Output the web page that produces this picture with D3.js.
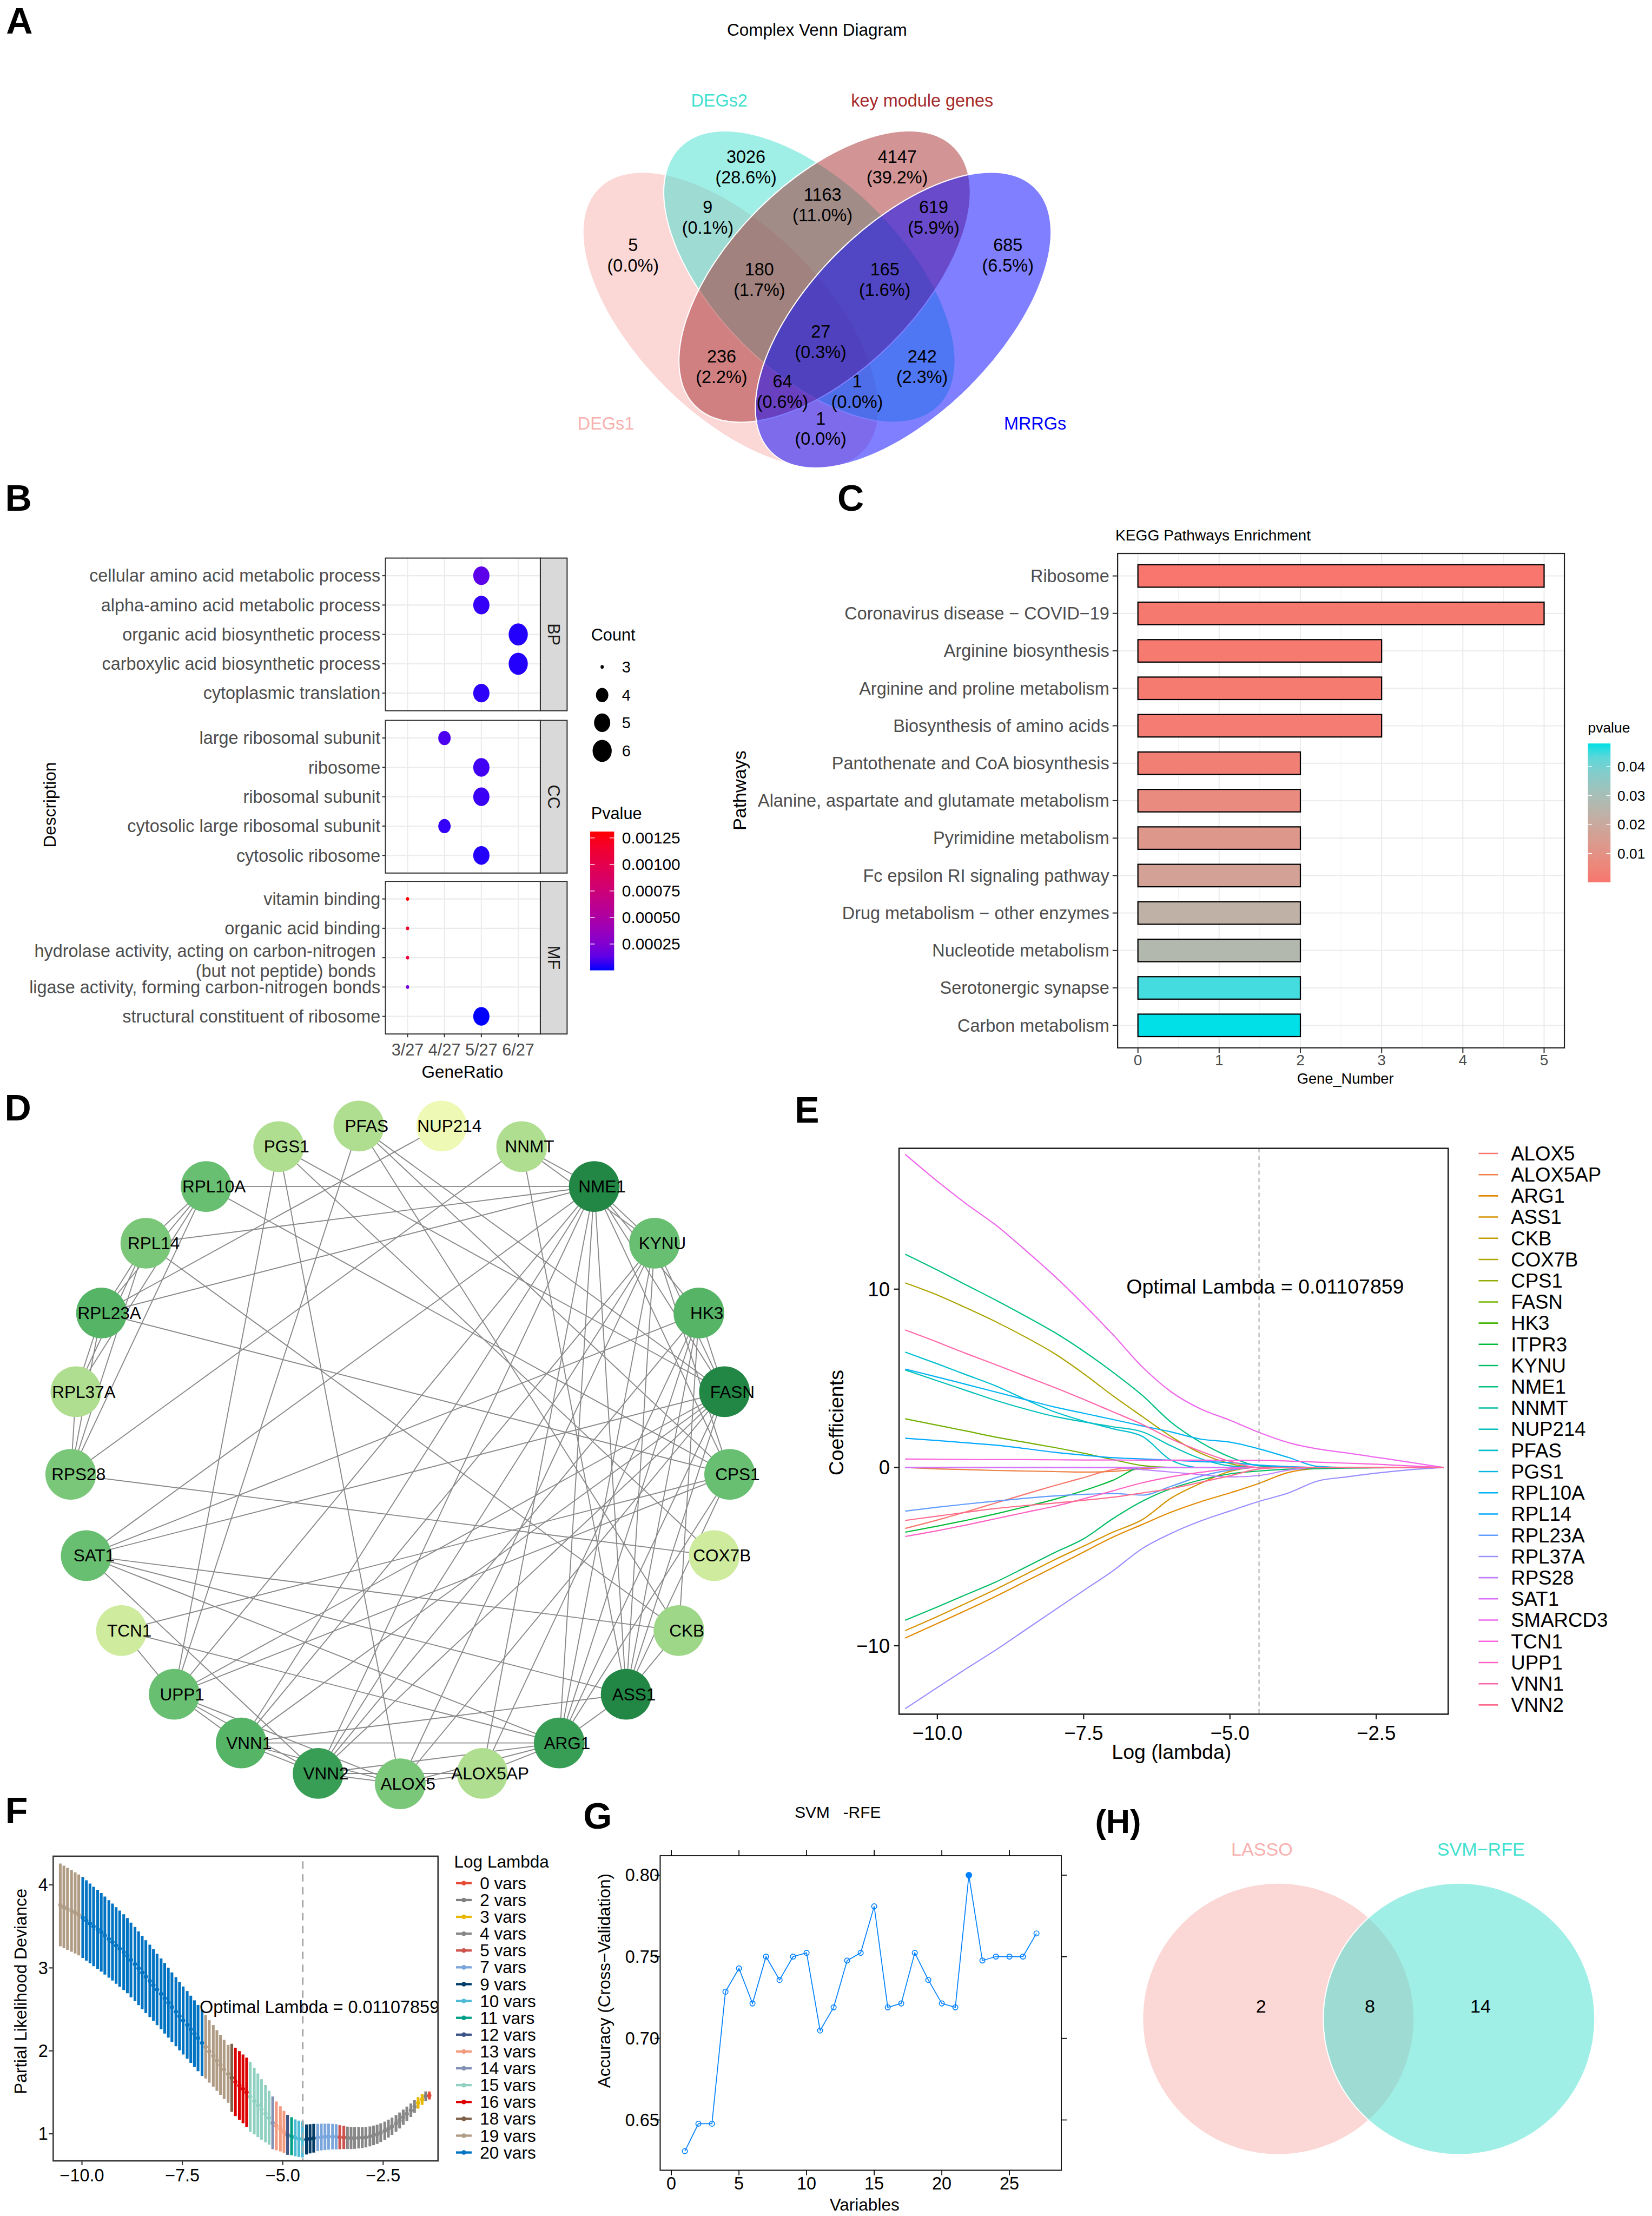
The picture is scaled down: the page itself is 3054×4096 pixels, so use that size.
<!DOCTYPE html>
<html>
<head>
<meta charset="utf-8">
<title>Hub gene figure</title>
<script src="https://cdn.jsdelivr.net/npm/d3@7"></script>
<style>
  html, body { margin: 0; padding: 0; background: #fff; }
  svg { display: block; font-family: "Liberation Sans", Arial, Helvetica, sans-serif; }
</style>
</head>
<body>
<svg id="fig" width="3054" height="4096" viewBox="0 0 3583 4805"></svg>
<script>
// ================= data =================
// A: four-set Venn
const vennSets = ["DEGs1", "DEGs2", "key module genes", "MRRGs"];
const vennCounts = [5, 3026, 4147, 685, 9, 1163, 619, 180, 165, 27, 236, 242, 64, 1, 1];

// B: GO enrichment dot plot
const goTerms = [
  "cellular amino acid metabolic process",
  "alpha-amino acid metabolic process",
  "organic acid biosynthetic process",
  "carboxylic acid biosynthetic process",
  "cytoplasmic translation",
  "large ribosomal subunit",
  "ribosome",
  "ribosomal subunit",
  "cytosolic large ribosomal subunit",
  "cytosolic ribosome",
  "vitamin binding",
  "organic acid binding",
  "hydrolase activity, acting on carbon-nitrogen\n(but not peptide) bonds",
  "ligase activity, forming carbon-nitrogen bonds",
  "structural constituent of ribosome"
];
const goOntology = ["BP", "BP", "BP", "BP", "BP", "CC", "CC", "CC", "CC", "CC", "MF", "MF", "MF", "MF", "MF"];
const goCount = [5, 5, 6, 6, 5, 4, 5, 5, 4, 5, 3, 3, 3, 3, 5];
const goPvalue = [0.00012, 0.00004, 0.00002, 0.00002, 0.00003, 0.00008, 0.00006, 0.00005, 0.00004, 0.00002,
                  0.00131, 0.00115, 0.00108, 0.0002, 0.000002];
const goRatioLevels = ["3/27", "4/27", "5/27", "6/27"];
const goPTicks = [0.00025, 0.0005, 0.00075, 0.001, 0.00125];

// C: KEGG bar chart
const keggPathways = ["Ribosome", "Coronavirus disease \u2212 COVID\u221219", "Arginine biosynthesis",
  "Arginine and proline metabolism", "Biosynthesis of amino acids", "Pantothenate and CoA biosynthesis",
  "Alanine, aspartate and glutamate metabolism", "Pyrimidine metabolism", "Fc epsilon RI signaling pathway",
  "Drug metabolism \u2212 other enzymes", "Nucleotide metabolism", "Serotonergic synapse", "Carbon metabolism"];
const keggCount = [5, 5, 3, 3, 3, 2, 2, 2, 2, 2, 2, 2, 2];
const keggPvalue = [0.00005, 0.0009, 0.0012, 0.0018, 0.0021, 0.003, 0.0075, 0.0125, 0.0165, 0.0235, 0.027, 0.0455, 0.048];
const keggPTicks = [0.01, 0.02, 0.03, 0.04];

// D: PPI network
const netGenes = ["ALOX5", "ALOX5AP", "ARG1", "ASS1", "CKB", "COX7B", "CPS1", "FASN", "HK3", "KYNU", "NME1",
  "NNMT", "NUP214", "PFAS", "PGS1", "RPL10A", "RPL14", "RPL23A", "RPL37A", "RPS28", "SAT1", "TCN1", "UPP1", "VNN1", "VNN2"];
const netScore = [9, 6, 13, 15, 7, 4, 10, 15, 11, 10, 15, 6, 1, 6, 6, 10, 9, 11, 6, 9, 10, 4, 10, 11, 13];
const netEdges = [
  ["RPL10A","RPL14"],["RPL10A","RPL23A"],["RPL10A","RPL37A"],["RPL10A","RPS28"],["RPL14","RPL23A"],
  ["RPL14","RPL37A"],["RPL14","RPS28"],["RPL23A","RPL37A"],["RPL23A","RPS28"],["RPL37A","RPS28"],
  ["RPL10A","NME1"],["RPL14","NME1"],["RPL23A","NME1"],["RPL23A","NUP214"],["RPL23A","CPS1"],
  ["RPL10A","CPS1"],["RPL14","CKB"],["RPS28","COX7B"],["RPS28","NNMT"],
  ["PFAS","UPP1"],["PFAS","FASN"],["PFAS","CKB"],["PFAS","CPS1"],
  ["PGS1","UPP1"],["PGS1","ALOX5"],["PGS1","FASN"],["PGS1","COX7B"],
  ["NNMT","NME1"],["NNMT","ASS1"],["NNMT","KYNU"],
  ["NME1","KYNU"],["NME1","HK3"],["NME1","FASN"],["NME1","CPS1"],["NME1","ASS1"],["NME1","ARG1"],
  ["NME1","VNN1"],["NME1","VNN2"],["NME1","UPP1"],["NME1","SAT1"],["NME1","ALOX5AP"],
  ["KYNU","FASN"],["KYNU","ASS1"],["KYNU","ARG1"],["KYNU","VNN1"],["KYNU","VNN2"],["KYNU","ALOX5"],["KYNU","CPS1"],
  ["HK3","FASN"],["HK3","ASS1"],["HK3","ARG1"],["HK3","VNN2"],["HK3","ALOX5AP"],["HK3","SAT1"],["HK3","CKB"],
  ["FASN","SAT1"],["FASN","UPP1"],["FASN","ASS1"],["FASN","ARG1"],["FASN","VNN1"],["FASN","VNN2"],["FASN","ALOX5"],
  ["CPS1","TCN1"],["CPS1","UPP1"],["CPS1","ASS1"],["CPS1","ARG1"],
  ["CKB","SAT1"],["CKB","ASS1"],["SAT1","ASS1"],["SAT1","ARG1"],["SAT1","VNN2"],
  ["TCN1","UPP1"],["TCN1","ARG1"],["UPP1","VNN1"],["UPP1","VNN2"],["UPP1","ALOX5"],
  ["VNN1","VNN2"],["VNN1","ALOX5"],["VNN1","ARG1"],["VNN1","ASS1"],
  ["VNN2","ALOX5"],["VNN2","ARG1"],["VNN2","ALOX5AP"],["ALOX5","ALOX5AP"],["ALOX5","ARG1"],
  ["ALOX5AP","ARG1"],["ARG1","ASS1"]
];

// E: LASSO coefficient paths (one array per gene, read at these log lambdas)
const lassoLogLambda = [-10.55, -10, -9.5, -9, -8.5, -8, -7.5, -7, -6.5, -6, -5.5, -5, -4.5, -4, -3.5, -3, -2.5, -2, -1.35];
const coefALOX5   = [-3.42,-2.95,-2.48,-1.99,-1.5,-1.02,-0.57,-0.12,0,0,0,0,0,0,0,0,0,0,0];
const coefALOX5AP = [0,-0.08,-0.12,-0.17,-0.2,-0.23,-0.26,-0.22,-0.08,0,0,0,0,0,0,0,0,0,0];
const coefARG1    = [-9.57,-8.75,-8.0,-7.22,-6.4,-5.58,-4.74,-3.91,-3.2,-2.5,-1.92,-1.43,-0.89,-0.28,-0.05,0,0,0,0];
const coefASS1    = [-9.15,-8.36,-7.6,-6.83,-6.01,-5.18,-4.41,-3.63,-2.93,-1.71,-0.89,-0.22,0,0,0,0,0,0,0];
const coefCKB     = [0,0,0,0,0,0,0,0,0,0,0,0,0,0,0,0,0,0,0];
const coefCOX7B   = [10.35,9.67,8.94,8.17,7.32,6.39,5.26,4.02,2.86,1.72,0.8,0.22,0,0,0,0,0,0,0];
const coefCPS1    = [0,0,0,0,0,0,0,0,0,0,0,0,0,0,0,0,0,0,0];
const coefFASN    = [2.73,2.37,2.04,1.7,1.41,1.12,0.8,0.44,0.11,0,0,0,0,0,0,0,0,0,0];
const coefHK3     = [0,0,0,0,0,0,0,0,0,0,0,0,0,0,0,0,0,0,0];
const coefITPR3   = [-3.63,-3.29,-2.96,-2.6,-2.21,-1.79,-1.3,-0.72,0,0,0,0,0,0,0,0,0,0,0];
const coefKYNU    = [-8.57,-7.82,-7.12,-6.42,-5.61,-4.78,-4.0,-2.87,-1.9,-1.18,-0.7,-0.36,-0.2,-0.1,-0.07,-0.04,-0.02,0,0];
const coefNME1    = [11.96,11.07,10.22,9.38,8.5,7.58,6.52,5.34,4.05,2.52,1.41,0.59,0.09,0,0,0,0,0,0];
const coefNNMT    = [0,0,0,0,0,0,0,0,0,0,0,0,0,0,0,0,0,0,0];
const coefNUP214  = [5.47,4.86,4.31,3.76,3.28,2.86,2.56,2.28,2.0,1.2,0.49,0.09,0,0,0,0,0,0,0];
const coefPFAS    = [6.47,5.81,5.19,4.57,3.82,3.12,2.6,2.17,1.75,0.4,0,0,0,0,0,0,0,0,0];
const coefPGS1    = [0,0,0,0,0,0,0,0,0,0,0,0,0,0,0,0,0,0,0];
const coefRPL10A  = [5.52,5.07,4.65,4.23,3.81,3.39,3.04,2.69,2.33,1.99,1.59,1.42,1.04,0.56,0.06,0,0,0,0];
const coefRPL14   = [1.64,1.51,1.38,1.25,1.06,0.85,0.69,0.55,0.48,0.4,0.33,0.27,0.13,0.05,0,0,0,0,0];
const coefRPL23A  = [-2.45,-2.23,-2.05,-1.89,-1.73,-1.6,-1.51,-1.46,-1.55,-1.05,-0.49,-0.15,0,0,0,0,0,0,0];
const coefRPL37A  = [-13.53,-12.34,-11.27,-10.23,-9.12,-8.01,-6.9,-5.8,-4.55,-3.69,-3.0,-2.44,-1.9,-1.43,-0.76,-0.53,-0.32,-0.15,0];
const coefRPS28   = [0,0,0,0,0,0,0,0,-0.12,-0.26,-0.4,-0.53,-0.45,-0.15,0,0,0,0,0];
const coefSAT1    = [0,0,0,0,0,0,0,0,0,0,0,0,0,0,0,0,0,0,0];
const coefSMARCD3 = [17.56,16.05,14.77,13.59,12.2,10.74,9.14,7.45,5.65,4.23,3.28,2.65,1.96,1.39,1.04,0.81,0.57,0.33,0];
const coefTCN1    = [0.47,0.46,0.45,0.44,0.44,0.43,0.42,0.42,0.41,0.41,0.41,0.4,0.4,0.36,0.3,0.24,0.18,0.1,0];
const coefUPP1    = [-3.87,-3.55,-3.22,-2.87,-2.52,-2.18,-1.76,-1.31,-0.86,-0.52,-0.27,-0.08,0,0,0,0,0,0,0];
const coefVNN1    = [7.71,7.03,6.38,5.76,5.12,4.49,3.82,3.12,2.42,1.59,0.91,0.35,0,0,0,0,0,0,0];
const coefVNN2    = [-2.97,-2.73,-2.51,-2.3,-2.14,-2.0,-1.84,-1.67,-1.43,-1.18,-0.83,-0.47,-0.08,0,0,0,0,0,0];
const lassoGenes = ["ALOX5","ALOX5AP","ARG1","ASS1","CKB","COX7B","CPS1","FASN","HK3","ITPR3","KYNU","NME1","NNMT",
  "NUP214","PFAS","PGS1","RPL10A","RPL14","RPL23A","RPL37A","RPS28","SAT1","SMARCD3","TCN1","UPP1","VNN1","VNN2"];
const lassoCoefs = [coefALOX5, coefALOX5AP, coefARG1, coefASS1, coefCKB, coefCOX7B, coefCPS1, coefFASN, coefHK3,
  coefITPR3, coefKYNU, coefNME1, coefNNMT, coefNUP214, coefPFAS, coefPGS1, coefRPL10A, coefRPL14, coefRPL23A,
  coefRPL37A, coefRPS28, coefSAT1, coefSMARCD3, coefTCN1, coefUPP1, coefVNN1, coefVNN2];
const optimalLambda = 0.01107859;

// F: cross-validation curve
const cvLogLambda = [-10.54,-10.45,-10.36,-10.26,-10.17,-10.08,-9.98,-9.89,-9.80,-9.71,-9.61,-9.52,-9.43,-9.33,-9.24,
  -9.15,-9.06,-8.96,-8.87,-8.78,-8.68,-8.59,-8.50,-8.41,-8.31,-8.22,-8.13,-8.03,-7.94,-7.85,-7.76,-7.66,-7.57,-7.48,
  -7.38,-7.29,-7.20,-7.11,-7.01,-6.92,-6.83,-6.73,-6.64,-6.55,-6.46,-6.36,-6.27,-6.18,-6.08,-5.99,-5.90,-5.81,-5.71,
  -5.62,-5.53,-5.43,-5.34,-5.25,-5.16,-5.06,-4.97,-4.88,-4.78,-4.69,-4.60,-4.51,-4.41,-4.32,-4.23,-4.13,-4.04,-3.95,
  -3.86,-3.76,-3.67,-3.58,-3.48,-3.39,-3.30,-3.21,-3.11,-3.02,-2.93,-2.83,-2.74,-2.65,-2.56,-2.46,-2.37,-2.28,-2.18,
  -2.09,-2.00,-1.91,-1.81,-1.72,-1.63,-1.53,-1.44,-1.35];
const cvMean = [3.759,3.735,3.711,3.687,3.662,3.638,3.607,3.571,3.535,3.499,3.465,3.429,3.390,3.349,3.311,3.270,
  3.231,3.190,3.147,3.096,3.046,2.995,2.944,2.894,2.843,2.793,2.740,2.687,2.634,2.581,2.527,2.472,2.419,2.366,2.313,
  2.260,2.207,2.154,2.096,2.048,1.993,1.940,1.884,1.831,1.776,1.723,1.675,1.626,1.583,1.542,1.501,1.446,1.395,1.344,
  1.294,1.243,1.193,1.132,1.096,1.060,1.024,0.988,0.971,0.952,0.940,0.932,0.932,0.940,0.947,0.957,0.961,0.964,0.966,
  0.966,0.964,0.959,0.957,0.952,0.949,0.949,0.952,0.954,0.959,0.969,0.981,0.995,1.014,1.036,1.063,1.091,1.125,1.161,
  1.200,1.241,1.284,1.328,1.373,1.414,1.453,1.462];
const cvSd = [0.499,0.496,0.494,0.492,0.489,0.487,0.487,0.484,0.481,0.478,0.476,0.473,0.470,0.467,0.464,0.461,0.459,
  0.456,0.453,0.450,0.447,0.444,0.442,0.439,0.436,0.433,0.430,0.427,0.425,0.422,0.419,0.416,0.413,0.410,0.408,0.405,
  0.402,0.399,0.398,0.381,0.376,0.371,0.366,0.361,0.357,0.349,0.410,0.412,0.414,0.414,0.417,0.422,0.402,0.383,0.364,
  0.345,0.325,0.318,0.294,0.272,0.253,0.241,0.229,0.222,0.219,0.217,0.181,0.176,0.173,0.164,0.161,0.159,0.157,0.154,
  0.152,0.145,0.140,0.135,0.133,0.130,0.128,0.125,0.123,0.120,0.118,0.116,0.113,0.111,0.108,0.104,0.101,0.096,0.092,
  0.087,0.082,0.077,0.070,0.065,0.058,0.048];
const cvNzero = [19,19,19,19,19,19,20,20,20,20,20,20,20,20,20,20,20,20,20,20,20,20,20,20,20,20,20,20,20,20,20,20,20,
  20,20,20,20,20,20,19,19,19,19,19,19,19,18,16,16,16,16,15,15,15,15,15,15,14,13,13,13,12,11,10,10,10,9,9,9,7,7,7,7,7,7,
  5,5,4,4,4,4,4,4,4,4,4,4,4,4,4,4,4,4,4,4,4,3,3,2,0];

// G: SVM-RFE accuracy
const svmVariables = [1,2,3,4,5,6,7,8,9,10,11,12,13,14,15,16,17,18,19,20,21,22,23,24,25,26,27];
const svmAccuracy = [0.6309,0.6477,0.6477,0.7286,0.7429,0.7214,0.7501,0.7358,0.7501,0.7524,0.7048,0.7190,0.7477,
  0.7524,0.7809,0.7190,0.7214,0.7524,0.7358,0.7214,0.7190,0.8000,0.7477,0.7501,0.7501,0.7501,0.7643];

// H: two-set Venn
const vennHSets = ["LASSO", "SVM\u2212RFE"];
const vennHCounts = [2, 8, 14];

// ================= helpers =================
const svg = d3.select("#fig");
svg.append("rect").attr("width", 3583).attr("height", 4805).attr("fill", "#fff");

function addText(parent, x, y, str, size, o = {}) {
  const t = parent.append("text")
    .attr("x", x).attr("y", y)
    .attr("dy", o.dy || "0.35em")
    .attr("font-size", size)
    .attr("text-anchor", o.anchor || "middle")
    .attr("fill", o.fill || "#000")
    .text(str);
  if (o.weight) t.attr("font-weight", o.weight);
  if (o.rotate) t.attr("transform", `rotate(${o.rotate},${x},${y})`);
  return t;
}

// R / ggplot2 hcl() colour (polar LUV) -> hex
function hclHex(h, c, l) {
  const hr = h * Math.PI / 180;
  const U = c * Math.cos(hr), V = c * Math.sin(hr);
  const Xn = 95.047, Yn = 100, Zn = 108.883;
  const den = Xn + 15 * Yn + 3 * Zn;
  const un = 4 * Xn / den, vn = 9 * Yn / den;
  const Y = l > 8 ? Yn * Math.pow((l + 16) / 116, 3) : Yn * l / 903.3;
  const u = U / (13 * l) + un, v = V / (13 * l) + vn;
  const X = Y * 9 * u / (4 * v), Z = Y * (12 - 3 * u - 20 * v) / (4 * v);
  const x = X / 100, yy = Y / 100, z = Z / 100;
  const r = 3.240454 * x - 1.537139 * yy - 0.498531 * z;
  const g = -0.969266 * x + 1.876011 * yy + 0.041556 * z;
  const b = 0.055643 * x - 0.204026 * yy + 1.057225 * z;
  const gam = t => { t = Math.max(0, Math.min(1, t)); return t <= 0.0031308 ? 12.92 * t : 1.055 * Math.pow(t, 1 / 2.4) - 0.055; };
  return d3.rgb(gam(r) * 255, gam(g) * 255, gam(b) * 255).formatHex();
}

// panel tags
[["A", 42, 44], ["B", 40, 1079], ["C", 1845, 1079], ["D", 39, 2401], ["E", 1750, 2406], ["F", 36, 3926], ["G", 1296, 3937]]
  .forEach(([s, x, y]) => addText(svg, x, y, s, 80, { weight: "bold" }));
addText(svg, 2425, 3950, "(H)", 72, { weight: "bold" });

// ================= A =================
const gA = svg.append("g");
addText(gA, 1772, 64, "Complex Venn Diagram", 37);
const vennFill = ["#F8B0AE", "#40E0D0", "#A52A2A", "#0000FF"];
const vennLabelColor = ["#F8B0AE", "#40E0D0", "#A52A2A", "#0000FF"];
const vennShapes = [
  { cx: 1585, cy: 694, rx: 405, ry: 204, rot: 45 },
  { cx: 1755.5, cy: 599.5, rx: 397, ry: 205, rot: 45 },
  { cx: 1788.5, cy: 599.5, rx: 397, ry: 205, rot: -45 },
  { cx: 1959, cy: 694, rx: 405, ry: 204, rot: -45 }
];
gA.selectAll("ellipse.venn").data(vennShapes).join("ellipse")
  .attr("cx", d => d.cx).attr("cy", d => d.cy).attr("rx", d => d.rx).attr("ry", d => d.ry)
  .attr("transform", d => `rotate(${d.rot},${d.cx},${d.cy})`)
  .attr("fill", (d, i) => vennFill[i]).attr("fill-opacity", 0.5)
  .attr("stroke", "#fff").attr("stroke-width", 2.5);
const vennSetPos = [[1314, 918], [1560, 218], [2000, 218], [2245, 918]];
vennSets.forEach((s, i) => addText(gA, vennSetPos[i][0], vennSetPos[i][1], s, 38, { fill: vennLabelColor[i] }));
const vennRegionPos = [[1373, 553], [1618, 362], [1946, 362], [2186, 553], [1535, 471], [1784, 444], [2025, 471],
  [1647, 606], [1919, 606], [1780, 741], [1565, 795], [2000, 795], [1697, 849], [1859, 849], [1780, 929]];
const vennTotal = d3.sum(vennCounts);
const pctFmt = d3.format(".1%");
vennCounts.forEach((c, i) => {
  const [x, y] = vennRegionPos[i];
  addText(gA, x, y - 22, String(c), 38);
  addText(gA, x, y + 22, "(" + pctFmt(c / vennTotal) + ")", 38);
});

// ================= B =================
const gB = svg.append("g");
const bX = d3.scalePoint().domain(goRatioLevels).range([836, 1172]).padding(0.6);
const facetTop = { BP: 1210, CC: 1562, MF: 1911 };
const facetH = 331;
const goColor = d3.scaleLinear().domain([0.000002, 0.00131]).range(["blue", "red"]).interpolate(d3.interpolateLab);
const dotR = c => 20.75 * (1 + 5 * Math.sqrt((c - 3) / 3)) / 6;
["BP", "CC", "MF"].forEach(f => {
  const idx = goTerms.map((t, i) => i).filter(i => goOntology[i] === f);
  const top = facetTop[f];
  const y = d3.scalePoint().domain(idx.map(i => goTerms[i])).range([top, top + facetH]).padding(0.6);
  gB.append("rect").attr("x", 836).attr("y", top).attr("width", 336).attr("height", facetH).attr("fill", "#fff");
  goRatioLevels.forEach(l => gB.append("line").attr("x1", bX(l)).attr("x2", bX(l)).attr("y1", top).attr("y2", top + facetH)
    .attr("stroke", "#EBEBEB").attr("stroke-width", 2.4));
  idx.forEach(i => {
    const yy = y(goTerms[i]);
    gB.append("line").attr("x1", 836).attr("x2", 1172).attr("y1", yy).attr("y2", yy).attr("stroke", "#EBEBEB").attr("stroke-width", 2.4);
  });
  idx.forEach(i => {
    const r = dotR(goCount[i]);
    gB.append("ellipse").attr("cx", bX(goCount[i] + "/27")).attr("cy", y(goTerms[i]))
      .attr("rx", r).attr("ry", r * 1.15).attr("fill", goColor(goPvalue[i]));
  });
  gB.append("rect").attr("x", 836).attr("y", top).attr("width", 336).attr("height", facetH)
    .attr("fill", "none").attr("stroke", "#333").attr("stroke-width", 2.4);
  gB.append("rect").attr("x", 1172).attr("y", top).attr("width", 58).attr("height", facetH)
    .attr("fill", "#D9D9D9").attr("stroke", "#333").attr("stroke-width", 2.4);
  addText(gB, 1201, top + facetH / 2, f, 36, { rotate: 90, fill: "#1A1A1A" });
  idx.forEach(i => {
    const yy = y(goTerms[i]);
    gB.append("line").attr("x1", 829).attr("x2", 836).attr("y1", yy).attr("y2", yy).attr("stroke", "#333").attr("stroke-width", 2.4);
    const lines = goTerms[i].split("\n");
    if (lines.length === 1) {
      addText(gB, 825, yy, lines[0], 38, { anchor: "end", fill: "#4D4D4D" });
    } else {
      addText(gB, 815, yy - 15, lines[0], 38, { anchor: "end", fill: "#4D4D4D" });
      addText(gB, 815, yy + 29, lines[1], 38, { anchor: "end", fill: "#4D4D4D" });
    }
  });
});
goRatioLevels.forEach(l => {
  gB.append("line").attr("x1", bX(l)).attr("x2", bX(l)).attr("y1", 2242).attr("y2", 2249).attr("stroke", "#333").attr("stroke-width", 2.4);
  addText(gB, bX(l), 2276, l, 36, { fill: "#4D4D4D" });
});
addText(gB, 1003, 2324, "GeneRatio", 37);
addText(gB, 108, 1745, "Description", 37, { rotate: -90 });
// legends
addText(gB, 1282, 1376, "Count", 36, { anchor: "start" });
[3, 4, 5, 6].forEach((c, k) => {
  const yy = [1446, 1507, 1567, 1628][k];
  const r = dotR(c);
  gB.append("ellipse").attr("cx", 1306).attr("cy", yy).attr("rx", r).attr("ry", r * 1.15).attr("fill", "#000");
  addText(gB, 1349, yy, String(c), 34, { anchor: "start" });
});
addText(gB, 1282, 1763, "Pvalue", 36, { anchor: "start" });
const defs = svg.append("defs");
const gradB = defs.append("linearGradient").attr("id", "gradB").attr("x1", 0).attr("y1", 1).attr("x2", 0).attr("y2", 0);
d3.range(0, 1.0001, 0.1).forEach(t => gradB.append("stop").attr("offset", t)
  .attr("stop-color", d3.interpolateLab("blue", "red")(t)));
gB.append("rect").attr("x", 1280).attr("y", 1803).attr("width", 52).attr("height", 301).attr("fill", "url(#gradB)");
const bLeg = d3.scaleLinear().domain([0.000002, 0.00131]).range([2104, 1803]);
goPTicks.forEach(v => {
  const yy = bLeg(v);
  gB.append("line").attr("x1", 1280).attr("x2", 1290).attr("y1", yy).attr("y2", yy).attr("stroke", "#fff").attr("stroke-width", 1.5);
  gB.append("line").attr("x1", 1322).attr("x2", 1332).attr("y1", yy).attr("y2", yy).attr("stroke", "#fff").attr("stroke-width", 1.5);
  addText(gB, 1349, yy, d3.format(".5f")(v), 35, { anchor: "start" });
});

// ================= C =================
const gC = svg.append("g");
const cX = d3.scaleLinear().domain([-0.25, 5.25]).range([2424, 3393]);
const cY = d3.scaleBand().domain(keggPathways).range([1200, 2272]).paddingInner(0.4).paddingOuter(0.3);
const keggColor = d3.scaleLinear().domain([0.00005, 0.048]).range(["#F8766D", "#00E0E6"]).interpolate(d3.interpolateLab);
addText(gC, 2631, 1160, "KEGG Pathways Enrichment", 33);
d3.range(0.5, 5, 1).forEach(v => gC.append("line").attr("x1", cX(v)).attr("x2", cX(v)).attr("y1", 1200).attr("y2", 2272)
  .attr("stroke", "#F0F0F0").attr("stroke-width", 1.3));
d3.range(0, 6).forEach(v => gC.append("line").attr("x1", cX(v)).attr("x2", cX(v)).attr("y1", 1200).attr("y2", 2272)
  .attr("stroke", "#EBEBEB").attr("stroke-width", 2.4));
keggPathways.forEach(p => {
  const yy = cY(p) + cY.bandwidth() / 2;
  gC.append("line").attr("x1", 2424).attr("x2", 3393).attr("y1", yy).attr("y2", yy).attr("stroke", "#EBEBEB").attr("stroke-width", 2.4);
});
gC.selectAll("rect.bar").data(keggPathways).join("rect")
  .attr("x", cX(0)).attr("y", d => cY(d))
  .attr("width", (d, i) => cX(keggCount[i]) - cX(0)).attr("height", cY.bandwidth())
  .attr("fill", (d, i) => keggColor(keggPvalue[i])).attr("stroke", "#000").attr("stroke-width", 2.6);
gC.append("rect").attr("x", 2424).attr("y", 1200).attr("width", 969).attr("height", 1072)
  .attr("fill", "none").attr("stroke", "#222").attr("stroke-width", 2.6);
keggPathways.forEach(p => {
  const yy = cY(p) + cY.bandwidth() / 2;
  gC.append("line").attr("x1", 2413).attr("x2", 2424).attr("y1", yy).attr("y2", yy).attr("stroke", "#333").attr("stroke-width", 2.4);
  addText(gC, 2406, yy, p, 38, { anchor: "end", fill: "#4D4D4D" });
});
d3.range(0, 6).forEach(v => {
  gC.append("line").attr("x1", cX(v)).attr("x2", cX(v)).attr("y1", 2272).attr("y2", 2283).attr("stroke", "#333").attr("stroke-width", 2.4);
  addText(gC, cX(v), 2298, String(v), 33, { fill: "#4D4D4D" });
});
addText(gC, 2918, 2338, "Gene_Number", 32);
addText(gC, 1604, 1714, "Pathways", 40, { rotate: -90 });
addText(gC, 3444, 1577, "pvalue", 31, { anchor: "start" });
const gradC = defs.append("linearGradient").attr("id", "gradC").attr("x1", 0).attr("y1", 1).attr("x2", 0).attr("y2", 0);
d3.range(0, 1.0001, 0.1).forEach(t => gradC.append("stop").attr("offset", t)
  .attr("stop-color", d3.interpolateLab("#F8766D", "#00E0E6")(t)));
gC.append("rect").attr("x", 3444).attr("y", 1612).attr("width", 49).attr("height", 301).attr("fill", "url(#gradC)");
const cLeg = d3.scaleLinear().domain([0.00005, 0.048]).range([1913, 1612]);
keggPTicks.forEach(v => {
  const yy = cLeg(v);
  gC.append("line").attr("x1", 3444).attr("x2", 3453).attr("y1", yy).attr("y2", yy).attr("stroke", "#fff").attr("stroke-width", 1.5);
  gC.append("line").attr("x1", 3484).attr("x2", 3493).attr("y1", yy).attr("y2", yy).attr("stroke", "#fff").attr("stroke-width", 1.5);
  addText(gC, 3508, yy, d3.format(".2f")(v), 31, { anchor: "start" });
});

// ================= D =================
const gD = svg.append("g");
const netCenter = [868, 3152], netRadius = 716, nodeR = 55;
const nodePos = {};
netGenes.forEach((g, k) => {
  const a = (90 - k * 360 / netGenes.length) * Math.PI / 180;
  nodePos[g] = [netCenter[0] + netRadius * Math.cos(a), netCenter[1] + netRadius * Math.sin(a)];
});
const nodeShade = d3.scaleLinear().domain([1, 15]).range([0.15, 0.75]);
gD.selectAll("line.edge").data(netEdges).join("line")
  .attr("x1", d => nodePos[d[0]][0]).attr("y1", d => nodePos[d[0]][1])
  .attr("x2", d => nodePos[d[1]][0]).attr("y2", d => nodePos[d[1]][1])
  .attr("stroke", "#888").attr("stroke-width", 2.2);
netGenes.forEach((g, k) => {
  const [x, y] = nodePos[g];
  gD.append("circle").attr("cx", x).attr("cy", y).attr("r", nodeR).attr("fill", d3.interpolateYlGn(nodeShade(netScore[k])));
  addText(gD, x + 17, y, g, 37);
});

// ================= E =================
const gE = svg.append("g");
const eX = d3.scaleLinear().domain([-10.654, -1.27]).range([1950, 3141]);
const eY = d3.scaleLinear().domain([-13.835, 17.895]).range([3717, 2490]);
const geneCols = lassoGenes.map((g, i) => hclHex(15 + 360 * i / lassoGenes.length, 100, 65));
defs.append("clipPath").attr("id", "clipE").append("rect").attr("x", 1950).attr("y", 2490).attr("width", 1191).attr("height", 1227);
const eLine = d3.line().x((d, i) => eX(lassoLogLambda[i])).y(d => eY(d)).curve(d3.curveMonotoneX);
const eLines = gE.append("g").attr("clip-path", "url(#clipE)");
lassoCoefs.forEach((c, i) => eLines.append("path").attr("d", eLine(c)).attr("fill", "none")
  .attr("stroke", geneCols[i]).attr("stroke-width", 2.6));
gE.append("line").attr("x1", eX(Math.log(optimalLambda))).attr("x2", eX(Math.log(optimalLambda)))
  .attr("y1", 2490).attr("y2", 3717).attr("stroke", "#9A9A9A").attr("stroke-width", 2.2).attr("stroke-dasharray", "9,7");
addText(gE, 2744, 2789, "Optimal Lambda = " + optimalLambda, 44);
gE.append("rect").attr("x", 1950).attr("y", 2490).attr("width", 1191).attr("height", 1227)
  .attr("fill", "none").attr("stroke", "#1A1A1A").attr("stroke-width", 3);
[-10, -7.5, -5, -2.5].forEach(v => {
  gE.append("line").attr("x1", eX(v)).attr("x2", eX(v)).attr("y1", 3717).attr("y2", 3728).attr("stroke", "#1A1A1A").attr("stroke-width", 2.6);
  addText(gE, eX(v), 3758, d3.format(".1f")(v).replace("-", "\u2212"), 43);
});
[-10, 0, 10].forEach(v => {
  gE.append("line").attr("x1", 1939).attr("x2", 1950).attr("y1", eY(v)).attr("y2", eY(v)).attr("stroke", "#1A1A1A").attr("stroke-width", 2.6);
  addText(gE, 1930, eY(v), String(v).replace("-", "\u2212"), 43, { anchor: "end" });
});
addText(gE, 2541, 3799, "Log (lambda)", 44);
addText(gE, 1814, 3085, "Coefficients", 44, { rotate: -90 });
lassoGenes.forEach((g, i) => {
  const yy = 2501 + 46 * i;
  gE.append("line").attr("x1", 3207).attr("x2", 3249).attr("y1", yy).attr("y2", yy).attr("stroke", geneCols[i]).attr("stroke-width", 3);
  addText(gE, 3277, yy, g, 43, { anchor: "start" });
});

// ================= F =================
const gF = svg.append("g");
const fX = d3.scaleLinear().domain([-10.716, -1.134]).range([115.4, 950]);
const fY = d3.scaleLinear().domain([0.674, 4.346]).range([4685.7, 4025]);
const nvarColor = { 0: "#E64B35", 2: "#808080", 3: "#E7B800", 4: "#878787", 5: "#CD534C", 7: "#7AA6DC", 9: "#003C67",
  10: "#4DBBD5", 11: "#00A087", 12: "#3C5488", 13: "#F39B7F", 14: "#8491B4", 15: "#91D1C2", 16: "#DC0000",
  18: "#7E6148", 19: "#B09C85", 20: "#0073C2" };
cvLogLambda.forEach((x, i) => {
  gF.append("line").attr("x1", fX(x)).attr("x2", fX(x))
    .attr("y1", fY(cvMean[i] - cvSd[i])).attr("y2", fY(cvMean[i] + cvSd[i]))
    .attr("stroke", nvarColor[cvNzero[i]]).attr("stroke-width", 6);
});
cvLogLambda.forEach((x, i) => {
  gF.append("circle").attr("cx", fX(x)).attr("cy", fY(cvMean[i])).attr("r", 4.5).attr("fill", nvarColor[cvNzero[i]]);
});
gF.append("line").attr("x1", fX(Math.log(optimalLambda))).attr("x2", fX(Math.log(optimalLambda)))
  .attr("y1", 4036).attr("y2", 4685.7).attr("stroke", "#A6A6A6").attr("stroke-width", 3.5).attr("stroke-dasharray", "16,12");
addText(gF, 433, 4352, "Optimal Lambda = " + optimalLambda, 38, { anchor: "start" });
gF.append("rect").attr("x", 115.4).attr("y", 4025).attr("width", 834.6).attr("height", 660.7)
  .attr("fill", "none").attr("stroke", "#333").attr("stroke-width", 3);
[-10, -7.5, -5, -2.5].forEach(v => {
  gF.append("line").attr("x1", fX(v)).attr("x2", fX(v)).attr("y1", 4685.7).attr("y2", 4695).attr("stroke", "#333").attr("stroke-width", 2.5);
  addText(gF, fX(v), 4717, d3.format(".1f")(v).replace("-", "\u2212"), 38);
});
[1, 2, 3, 4].forEach(v => {
  gF.append("line").attr("x1", 106).attr("x2", 115.4).attr("y1", fY(v)).attr("y2", fY(v)).attr("stroke", "#333").attr("stroke-width", 2.5);
  addText(gF, 104, fY(v), String(v), 38, { anchor: "end" });
});
addText(gF, 44, 4318, "Partial Likelihood Deviance", 37, { rotate: -90 });
addText(gF, 985, 4037, "Log Lambda", 37, { anchor: "start" });
const nvarLevels = Array.from(new Set(cvNzero)).sort((a, b) => a - b);
nvarLevels.forEach((n, k) => {
  const yy = 4083.5 + 36.5 * k;
  gF.append("line").attr("x1", 989).attr("x2", 1023).attr("y1", yy).attr("y2", yy).attr("stroke", nvarColor[n]).attr("stroke-width", 5);
  gF.append("circle").attr("cx", 1006).attr("cy", yy).attr("r", 5).attr("fill", nvarColor[n]);
  addText(gF, 1041, yy, n + " vars", 37, { anchor: "start" });
});

// ================= G =================
const gG = svg.append("g");
const gX = d3.scaleLinear().domain([-0.8285, 28.834]).range([1431.8, 2301.8]);
const gY = d3.scaleLinear().domain([0.6192, 0.8119]).range([4706, 4024]);
addText(gG, 1817, 3929, "SVM   -RFE", 35).style("white-space", "pre");
gG.append("path").attr("d", d3.line().x((d, i) => gX(svmVariables[i])).y(d => gY(d))(svmAccuracy))
  .attr("fill", "none").attr("stroke", "#0080FF").attr("stroke-width", 2);
const bestIdx = d3.maxIndex(svmAccuracy);
svmAccuracy.forEach((a, i) => {
  gG.append("circle").attr("cx", gX(svmVariables[i])).attr("cy", gY(a)).attr("r", i === bestIdx ? 6 : 5.5)
    .attr("fill", i === bestIdx ? "#0080FF" : "none").attr("stroke", "#0080FF").attr("stroke-width", 2);
});
gG.append("rect").attr("x", 1431.8).attr("y", 4024).attr("width", 870).attr("height", 682)
  .attr("fill", "none").attr("stroke", "#000").attr("stroke-width", 2.2);
[0, 5, 10, 15, 20, 25].forEach(v => {
  gG.append("line").attr("x1", gX(v)).attr("x2", gX(v)).attr("y1", 4706).attr("y2", 4717).attr("stroke", "#000").attr("stroke-width", 2);
  gG.append("line").attr("x1", gX(v)).attr("x2", gX(v)).attr("y1", 4024).attr("y2", 4012).attr("stroke", "#000").attr("stroke-width", 2);
  addText(gG, gX(v), 4734, String(v), 38);
});
[0.65, 0.70, 0.75, 0.80].forEach(v => {
  gG.append("line").attr("x1", 2301.8).attr("x2", 2314).attr("y1", gY(v)).attr("y2", gY(v)).attr("stroke", "#000").attr("stroke-width", 2);
  gG.append("line").attr("x1", 1420).attr("x2", 1431.8).attr("y1", gY(v)).attr("y2", gY(v)).attr("stroke", "#000").attr("stroke-width", 2);
  addText(gG, 1430, gY(v), d3.format(".2f")(v), 38, { anchor: "end" });
});
addText(gG, 1875, 4780, "Variables", 37);
addText(gG, 1311, 4295, "Accuracy (Cross\u2212Validation)", 37, { rotate: -90 });

// ================= H =================
const gH = svg.append("g");
const hCircles = [[2772.6, 4377.8], [3164.5, 4377.8]];
const hFill = ["#F8B0AE", "#40E0D0"];
hCircles.forEach((c, i) => gH.append("circle").attr("cx", c[0]).attr("cy", c[1]).attr("r", 294.5)
  .attr("fill", hFill[i]).attr("fill-opacity", 0.5).attr("stroke", "#fff").attr("stroke-width", 2.5));
addText(gH, 2737, 4010, vennHSets[0], 40, { fill: "#F8B0AE" });
addText(gH, 3212, 4010, vennHSets[1], 40, { fill: "#40E0D0" });
[[2735, 4350], [2971, 4350], [3211, 4350]].forEach((p, i) => addText(gH, p[0], p[1], String(vennHCounts[i]), 40));
</script>
</body>
</html>
